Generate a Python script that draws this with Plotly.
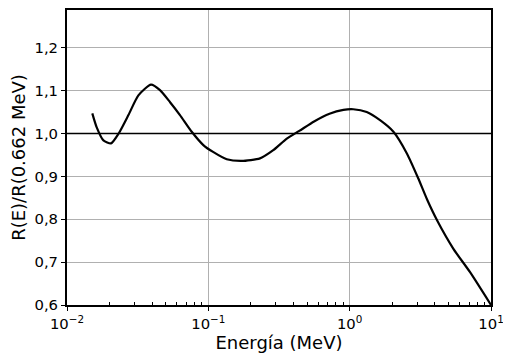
import plotly.graph_objects as go

energy = [0.0151, 0.0162, 0.0181, 0.0205, 0.0232, 0.0272, 0.032, 0.0393,
          0.0455, 0.0536, 0.063, 0.0763, 0.0922, 0.108, 0.135, 0.172, 0.232,
          0.288, 0.359, 0.44, 0.56, 0.72, 0.903, 1.06, 1.32, 1.64, 2.04,
          2.54, 3.06, 3.53, 4.16, 5.42, 7.11, 10.0]
ratio = [1.047, 1.015, 0.984, 0.977, 1.0, 1.043, 1.089, 1.114,
         1.101, 1.073, 1.043, 1.004, 0.973, 0.957, 0.940, 0.936, 0.942,
         0.961, 0.988, 1.006, 1.028, 1.046, 1.055, 1.0565, 1.050, 1.031, 1.004,
         0.9535, 0.895, 0.846, 0.797, 0.731, 0.6765, 0.600]

x_tickvals = [0.01, 0.1, 1, 10]
x_ticktext = ["10<sup>−2</sup>", "10<sup>−1</sup>", "10<sup>0</sup>", "10<sup>1</sup>"]
x_minorvals = [m * d for d in (0.01, 0.1, 1) for m in range(2, 10)]
y_tickvals = [0.6, 0.7, 0.8, 0.9, 1.0, 1.1, 1.2]
ref_level = 1.0

fig = go.Figure()
fig.add_trace(go.Scatter(x=[0.01, 10], y=[ref_level, ref_level], mode="lines",
                         line=dict(color="black", width=1.5), hoverinfo="skip"))
fig.add_trace(go.Scatter(x=energy, y=ratio, mode="lines",
                         line=dict(color="black", width=2.2, shape="spline", smoothing=0.6)))

font = dict(family="DejaVu Sans", size=14.8, color="black")
fig.update_layout(
    width=503, height=345,
    margin=dict(l=59, r=20, t=2, b=48),
    paper_bgcolor="white", plot_bgcolor="white",
    showlegend=False,
    separators=",.",
    font=font,
    xaxis=dict(type="log", range=[-2, 1], tickvals=x_tickvals, ticktext=x_ticktext,
               automargin=False,
               showgrid=True, gridcolor="#b0b0b0", gridwidth=1,
               showline=True, linecolor="black", linewidth=2, mirror=True,
               ticks="outside", ticklen=4, tickwidth=1, tickcolor="black",
               minor=dict(tickvals=x_minorvals, ticks="inside", ticklen=3,
                          tickcolor="black", showgrid=False),
               title=dict(text="Energía (MeV)", standoff=4), zeroline=False),
    yaxis=dict(range=[0.6, 1.288], tickvals=y_tickvals, tickformat=".1f",
               automargin=False,
               showgrid=True, gridcolor="#b0b0b0", gridwidth=1,
               showline=True, linecolor="black", linewidth=2, mirror=True,
               ticks="outside", ticklen=4, tickwidth=1, tickcolor="black",
               title=dict(text="R(E)/R(0.662 MeV)", standoff=6), zeroline=False),
)

fig.write_html("out.html")
